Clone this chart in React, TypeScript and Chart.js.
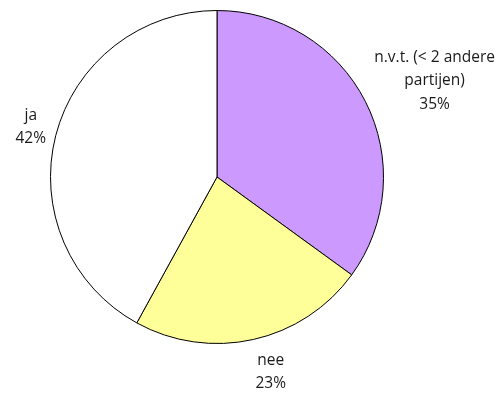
import React, { useEffect, useRef } from "react";
import { Chart, registerables } from "chart.js";

Chart.register(...registerables);

// Answer categories, each label split into its display lines
const categoryLines: string[][] = [
  ["n.v.t. (< 2 andere", "partijen)"],
  ["nee"],
  ["ja"],
];
const shares: number[] = [35, 23, 42];
const sliceColors: string[] = ["#CC99FF", "#FFFF99", "#FFFFFF"];

const FONT = '15.5px "Open Sans", sans-serif';
const LINE_HEIGHT = 23.5;
const LABEL_GAP = 10;

// Draws each category label outside its slice, with the percentage on the last line
const outsideLabels = {
  id: "outsideLabels",
  afterDraw(chart: any) {
    const ctx = chart.ctx as CanvasRenderingContext2D;
    const meta = chart.getDatasetMeta(0);
    const data = chart.data.datasets[0].data as number[];
    const total = data.reduce((a, b) => a + b, 0);
    ctx.save();
    ctx.font = FONT;
    ctx.fillStyle = "#1a1a1a";
    ctx.textAlign = "center";
    ctx.textBaseline = "middle";
    meta.data.forEach((arc: any, i: number) => {
      const { x, y, startAngle, endAngle, outerRadius } = arc.getProps(
        ["x", "y", "startAngle", "endAngle", "outerRadius"],
        true
      );
      const mid = (startAngle + endAngle) / 2;
      const lines = [...categoryLines[i], Math.round((data[i] / total) * 100) + "%"];
      const w = Math.max(...lines.map((l) => ctx.measureText(l).width));
      const h = lines.length * LINE_HEIGHT;
      const cos = Math.cos(mid);
      const sin = Math.sin(mid);
      const d = outerRadius + LABEL_GAP;
      // box sits beside the anchor point on the side the slice faces
      const cx = x + cos * d + (Math.sign(cos) * w) / 2;
      const cy = y + sin * d + (sin * h) / 2;
      lines.forEach((line, k) => {
        ctx.fillText(line, cx, cy - h / 2 + LINE_HEIGHT * (k + 0.5));
      });
    });
    ctx.restore();
  },
};

export default function App() {
  const canvasRef = useRef<HTMLCanvasElement | null>(null);

  useEffect(() => {
    document.body.style.margin = "0";
    const canvas = canvasRef.current;
    if (!canvas) return;
    const chart = new Chart(canvas, {
      type: "pie",
      data: {
        labels: categoryLines.map((l) => l.join(" ")),
        datasets: [
          {
            data: shares,
            backgroundColor: sliceColors,
            borderColor: "#000",
            borderWidth: 1,
          },
        ],
      },
      options: {
        responsive: false,
        animation: false,
        layout: { padding: { left: 50, top: 10, right: 119, bottom: 50 } },
        plugins: {
          legend: { display: false },
          tooltip: { enabled: false },
        },
      },
      plugins: [outsideLabels],
    });
    return () => chart.destroy();
  }, []);

  return (
    <div style={{ width: 503, height: 394, background: "#fff" }}>
      <canvas ref={canvasRef} width={503} height={394} />
    </div>
  );
}
